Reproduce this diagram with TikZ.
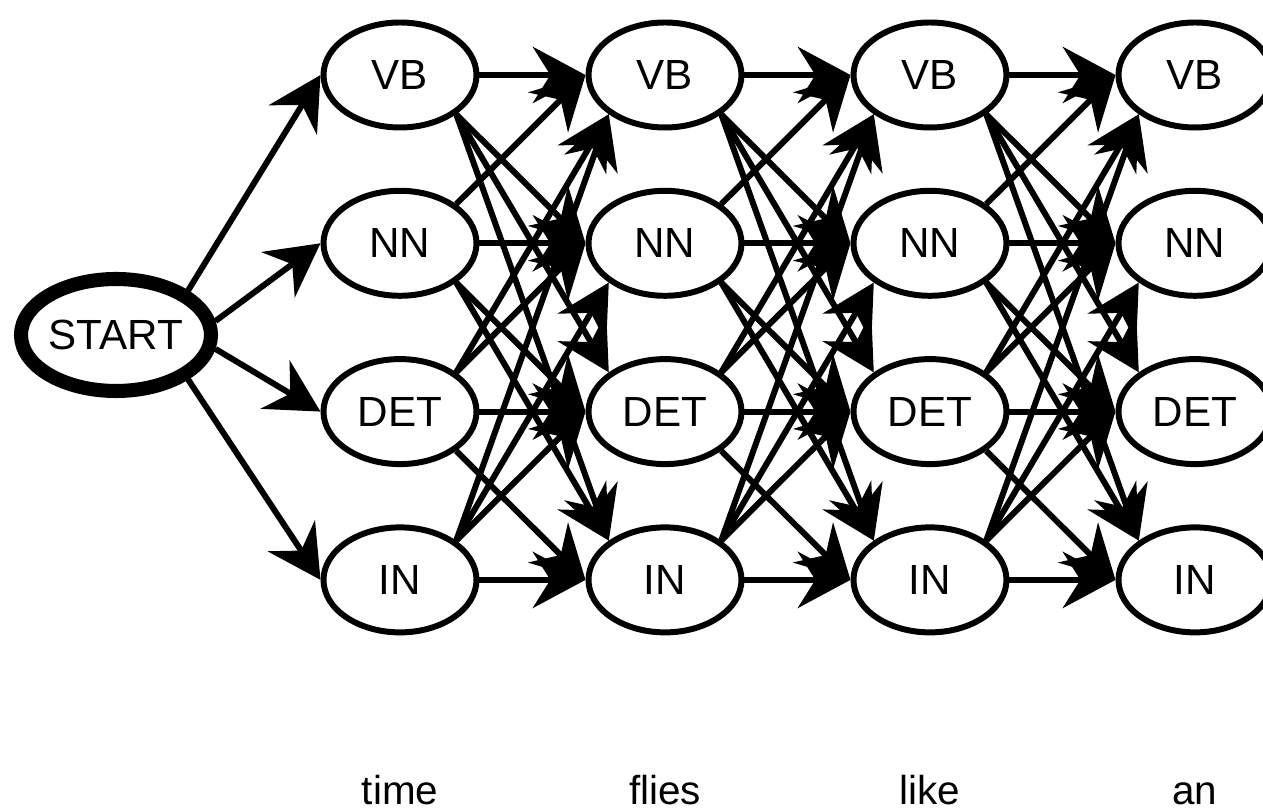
\documentclass[tikz,border=0pt]{standalone}
\usepackage{fontspec}
\setmainfont{Liberation Sans}
\usetikzlibrary{arrows.meta,shapes.geometric}
\tikzset{
tag/.style={draw,ellipse,line width=1.7pt,minimum width=1.53cm,minimum height=1.05cm,inner sep=0pt,font=\fontsize{12}{14}\selectfont},
word/.style={anchor=base,font=\fontsize{11.5}{13}\selectfont},
trans/.style={line width=1.7pt,-{Stealth[length=15pt,width=16pt,inset=5pt]}},
}
\begin{document}
\begin{tikzpicture}
\pgfmathsetmacro{\kcolstep}{2.65}
\pgfmathsetmacro{\krowstep}{1.683}
\useasboundingbox (0,0) rectangle (12.63,-8.09);
\node[tag,line width=4pt,minimum width=1.89cm,minimum height=1.12cm](start) at (1.16,-3.35){START};
\foreach \kx/\wlb in {0/time,1/flies,2/like,3/an}{
\foreach \ky/\tlb in {0/VB,1/NN,2/DET,3/IN}{\node[tag](t\kx\ky) at (4+\kx*\kcolstep,-0.75-\ky*\krowstep){\tlb};}
\node[word](w\kx) at (4+\kx*\kcolstep,-8.05){\wlb};
}
\foreach \ky/\kout in {0/north east,1/8,2/-8,3/south east}{\draw[trans](start.\kout)--(t0\ky.west);}
%\draw[trans](start)--(t00);
\foreach \kx/\knx in {0/1,1/2,2/3}{
\foreach \ky in {0,...,3}{
\foreach \kny in {0,...,3}{
\pgfmathsetmacro{\kdy}{int(\kny-\ky)}
\ifnum\kdy<0 \def\kout{north east}\else\ifnum\kdy>0 \def\kout{south east}\else\def\kout{east}\fi\fi
\ifnum\kdy<-1 \def\kin{south west}\else\ifnum\kdy>1 \def\kin{north west}\else\def\kin{west}\fi\fi
\draw[trans](t\kx\ky.\kout)--(t\knx\kny.\kin);
}
}
}
\end{tikzpicture}
\end{document}
